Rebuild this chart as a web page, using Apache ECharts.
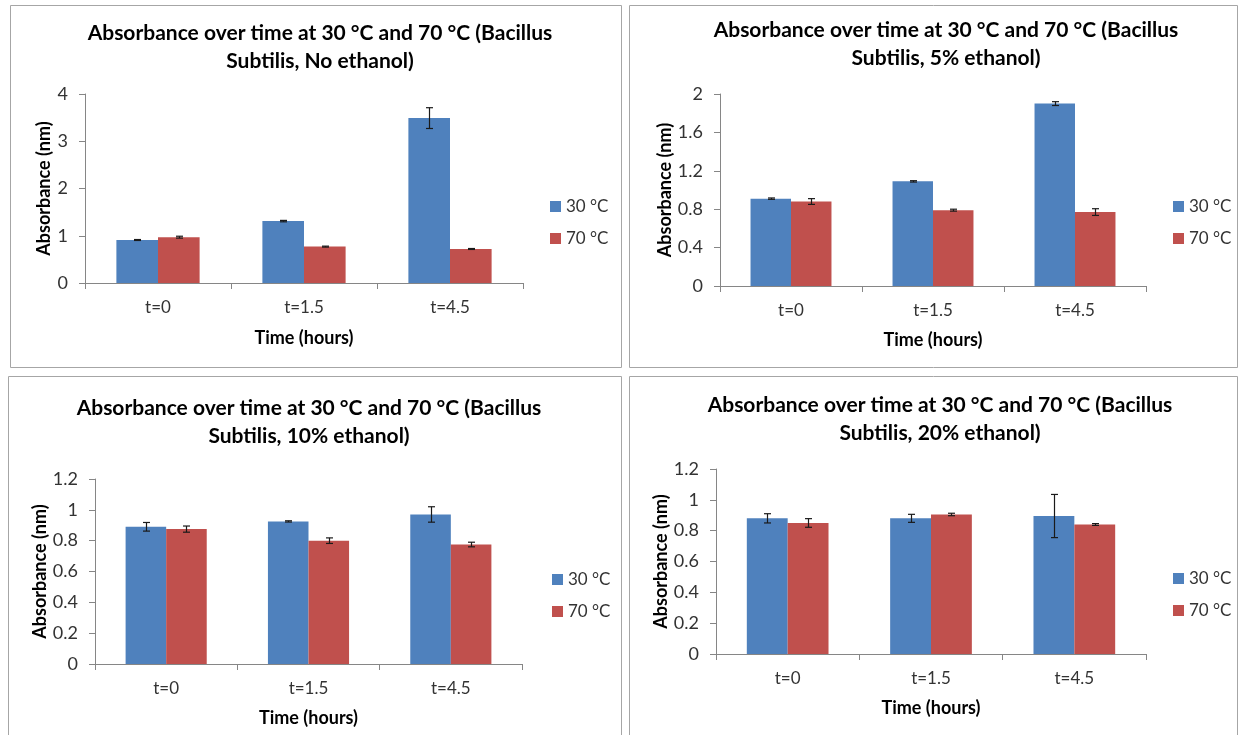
<!DOCTYPE html>
<html><head><meta charset="utf-8">
<script src="https://cdn.jsdelivr.net/npm/echarts@6/dist/echarts.min.js"></script>
<style>html,body{margin:0;padding:0;background:#fff}#c{width:1239px;height:735px}</style>
</head><body><div id="c"></div>
<script>
const categories = ['t=0', 't=1.5', 't=4.5'];
const seriesNames = ['30 °C', '70 °C'];
const titles = [
  'Absorbance over time at 30 °C and 70 °C (Bacillus\nSubtilis, No ethanol)',
  'Absorbance over time at 30 °C and 70 °C (Bacillus\nSubtilis, 5% ethanol)',
  'Absorbance over time at 30 °C and 70 °C (Bacillus\nSubtilis, 10% ethanol)',
  'Absorbance over time at 30 °C and 70 °C (Bacillus\nSubtilis, 20% ethanol)'
];
// No ethanol
const noEth30 = [0.91, 1.31, 3.49];
const noEth30Err = [0.01, 0.015, 0.22];
const noEth70 = [0.97, 0.77, 0.72];
const noEth70Err = [0.02, 0.01, 0.01];
// 5% ethanol
const eth5_30 = [0.91, 1.09, 1.90];
const eth5_30Err = [0.007, 0.007, 0.02];
const eth5_70 = [0.88, 0.79, 0.77];
const eth5_70Err = [0.03, 0.01, 0.035];
// 10% ethanol
const eth10_30 = [0.89, 0.925, 0.97];
const eth10_30Err = [0.028, 0.004, 0.05];
const eth10_70 = [0.875, 0.80, 0.775];
const eth10_70Err = [0.02, 0.018, 0.015];
// 20% ethanol
const eth20_30 = [0.88, 0.88, 0.895];
const eth20_30Err = [0.03, 0.026, 0.14];
const eth20_70 = [0.85, 0.905, 0.84];
const eth20_70Err = [0.028, 0.008, 0.006];
// y-axis ranges
const yMax = [4, 2, 1.2, 1.2];
const yStep = [1, 0.4, 0.2, 0.2];

const panelData = [
  [noEth30, noEth30Err, noEth70, noEth70Err],
  [eth5_30, eth5_30Err, eth5_70, eth5_70Err],
  [eth10_30, eth10_30Err, eth10_70, eth10_70Err],
  [eth20_30, eth20_30Err, eth20_70, eth20_70Err]
];

const FONT = 'Lato';
const BLUE = '#4F81BD', RED = '#C0504D';
const CAT_GAP = 0.43;

// layout
const boxes = [
  {x: 10, y: 5, w: 611, h: 362},
  {x: 629, y: 5, w: 608, h: 362},
  {x: 8, y: 376, w: 613, h: 366},
  {x: 629, y: 376, w: 608, h: 366}
];
const grids = [
  {left: 85, top: 94, width: 438, height: 189},
  {left: 720, top: 94, width: 426, height: 192},
  {left: 95, top: 479, width: 427, height: 185},
  {left: 716, top: 469, width: 430, height: 185}
];
const titlePos = [
  {cx: 315, top: 14}, {cx: 941, top: 11}, {cx: 304, top: 389}, {cx: 935, top: 386}
];
const legendPos = [
  {left: 545, top: 193}, {left: 1168, top: 193}, {left: 547, top: 566}, {left: 1168, top: 565}
];
const xNameGap = [46, 45, 45, 45];

const option = {
  backgroundColor: '#fff',
  animation: false,
  textStyle: {fontFamily: FONT},
  title: [], grid: [], xAxis: [], yAxis: [], legend: [], series: [],
  graphic: boxes.map(b => ({
    type: 'rect', shape: {x: b.x + 0.5, y: b.y + 0.5, width: b.w, height: b.h},
    style: {fill: 'none', stroke: '#a6a6a6', lineWidth: 1}, silent: true, z: -1
  }))
};

function errRender(side) {
  return function (params, api) {
    const cat = api.value(0), v = api.value(1), e = api.value(2);
    const top = api.coord([cat, v + e]);
    const bot = api.coord([cat, v - e]);
    const band = api.size([1, 0])[0];
    const barW = band * (1 - CAT_GAP) / 2;
    const x = Math.round(top[0] + side * barW / 2) + 0.5;
    const cap = 3.5;
    const st = {stroke: '#1a1a1a', lineWidth: 1.2};
    return {type: 'group', children: [
      {type: 'line', shape: {x1: x, y1: top[1], x2: x, y2: bot[1]}, style: st},
      {type: 'line', shape: {x1: x - cap, y1: top[1], x2: x + cap, y2: top[1]}, style: st},
      {type: 'line', shape: {x1: x - cap, y1: bot[1], x2: x + cap, y2: bot[1]}, style: st}
    ]};
  };
}

for (let i = 0; i < 4; i++) {
  const g = grids[i];
  option.grid.push({left: g.left, top: g.top, width: g.width, height: g.height, containLabel: false});
  option.title.push({
    text: titles[i], left: titlePos[i].cx, top: titlePos[i].top, textAlign: 'center',
    textStyle: {fontFamily: FONT, fontWeight: 'bold', fontSize: 21, color: '#000', lineHeight: 28}
  });
  option.xAxis.push({
    type: 'category', gridIndex: i, data: categories,
    name: 'Time (hours)', nameLocation: 'middle', nameGap: xNameGap[i],
    nameTextStyle: {fontFamily: FONT, fontWeight: 'bold', fontSize: 18, color: '#000'},
    axisLine: {lineStyle: {color: '#868686'}},
    axisTick: {show: true, length: 6, lineStyle: {color: '#868686'}},
    axisLabel: {fontFamily: FONT, fontSize: 17, color: '#333', margin: 16}
  });
  option.yAxis.push({
    type: 'value', gridIndex: i, min: 0, max: yMax[i], interval: yStep[i],
    name: 'Absorbance (nm)', nameLocation: 'middle', nameRotate: 90, nameGap: 31,
    nameTextStyle: {fontFamily: FONT, fontWeight: 'bold', fontSize: 18, color: '#000'},
    axisLine: {show: true, lineStyle: {color: '#868686'}},
    axisTick: {show: true, length: 6, lineStyle: {color: '#868686'}},
    splitLine: {show: false},
    axisLabel: {fontFamily: FONT, fontSize: 18, color: '#333', margin: 17}
  });
  option.legend.push({
    data: seriesNames, orient: 'vertical', left: legendPos[i].left, top: legendPos[i].top,
    itemWidth: 11, itemHeight: 11, itemGap: 15, icon: 'rect',
    textStyle: {fontFamily: FONT, fontSize: 17, color: '#333'}
  });
  const d = panelData[i];
  option.series.push({
    name: seriesNames[0], type: 'bar', xAxisIndex: i, yAxisIndex: i, data: d[0],
    itemStyle: {color: BLUE}, barGap: '0%', barCategoryGap: (CAT_GAP * 100) + '%'
  });
  option.series.push({
    name: seriesNames[1], type: 'bar', xAxisIndex: i, yAxisIndex: i, data: d[2],
    itemStyle: {color: RED}, barGap: '0%', barCategoryGap: (CAT_GAP * 100) + '%'
  });
  option.series.push({
    type: 'custom', xAxisIndex: i, yAxisIndex: i, renderItem: errRender(-1),
    data: d[0].map((v, k) => [k, v, d[1][k]]), encode: {x: 0, y: 1}, z: 10, silent: true
  });
  option.series.push({
    type: 'custom', xAxisIndex: i, yAxisIndex: i, renderItem: errRender(1),
    data: d[2].map((v, k) => [k, v, d[3][k]]), encode: {x: 0, y: 1}, z: 10, silent: true
  });
}

const chart = echarts.init(document.getElementById('c'), null, {renderer: 'canvas'});
chart.setOption(option);
</script></body></html>
